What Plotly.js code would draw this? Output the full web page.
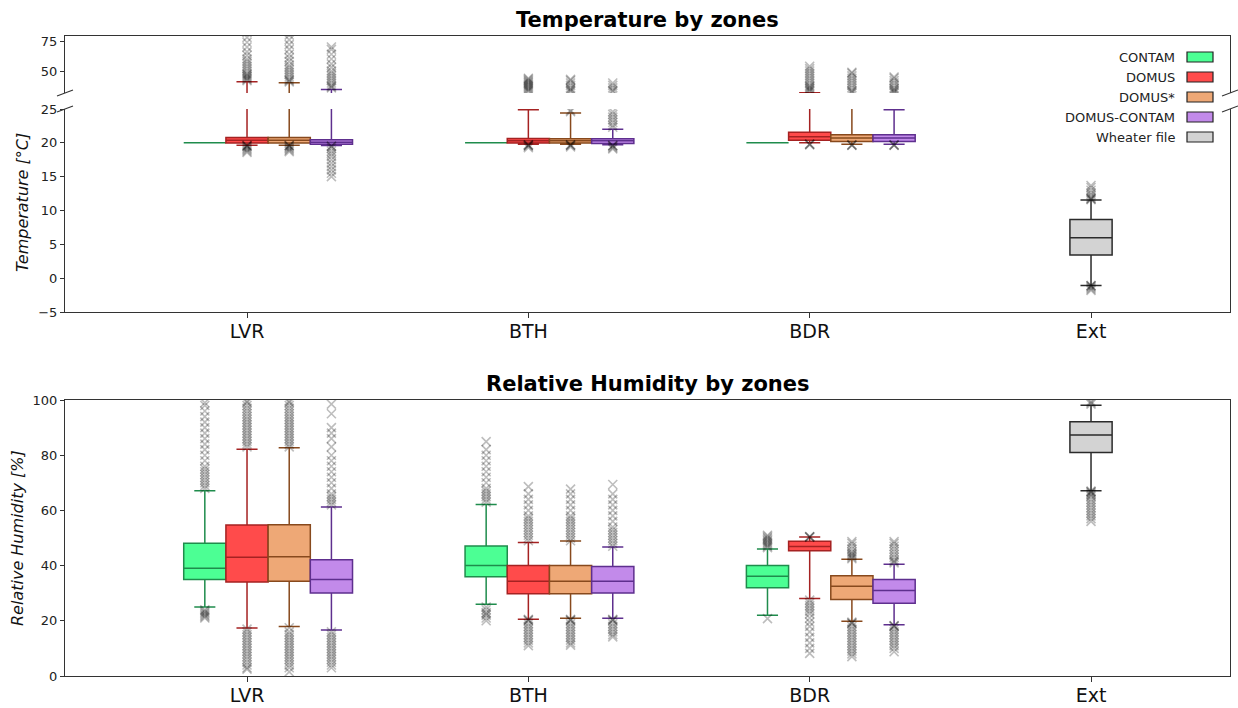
<!DOCTYPE html>
<html>
<head>
<meta charset="utf-8">
<script src="https://cdn.plot.ly/plotly-3.0.1.min.js"></script>
<style>
html,body{margin:0;padding:0;background:#fff;}
#chart{width:1238px;height:708px;}
</style>
</head>
<body>
<div id="chart"></div>
<script>
// ---------------- DATA ----------------
const zones = ['LVR', 'BTH', 'BDR', 'Ext'];
const seriesNames = ['CONTAM', 'DOMUS', 'DOMUS*', 'DOMUS-CONTAM'];
const extName = 'Wheater file';

// Temperature box statistics, rows = series, columns = LVR, BTH, BDR
const tempQ1  = [[20, 20, 20], [19.96, 19.96, 20.4], [19.96, 19.96, 20.2], [19.8, 19.9, 20.2]];
const tempMed = [[20, 20, 20], [20.4, 20.3, 20.9], [20.4, 20.3, 20.7], [20.1, 20.3, 20.7]];
const tempQ3  = [[20, 20, 20], [20.78, 20.63, 21.57], [20.8, 20.6, 21.18], [20.44, 20.6, 21.18]];
const tempLo  = [[20, 20, 20], [19.66, 19.8, 20.0], [19.66, 19.8, 19.8], [19.6, 19.7, 19.8]];
const tempHi  = [[20, 20, 20], [41.1, 24.9, 32], [40.3, 24.4, 30], [34.7, 22.0, 24.9]];
// Weather file (Ext): lower fence, q1, median, q3, upper fence
const tempExt = [-1.07, 3.43, 5.99, 8.68, 11.57];

// Temperature outliers, rows = series, columns = LVR, BTH, BDR
const tempOut = [
  [[], [], []],
  [[42, 43, 44, 45, 46, 47, 48, 50, 52, 54, 56, 58, 60, 63, 66, 70, 74, 78, 82, 19.6, 19.6, 19.5, 19.4, 19.2, 19.0, 18.8, 18.6],
   [33, 34, 35, 36, 37, 38, 39, 40, 41, 42, 43, 44, 19.7, 19.7, 19.6, 19.5, 19.3],
   [33, 34, 35, 36, 37, 38, 40, 42, 44, 46, 48, 50, 52, 54, 19.8, 19.8, 19.7]],
  [[41, 42, 43, 45, 47, 49, 51, 53, 55, 58, 61, 64, 68, 72, 76, 80, 19.6, 19.6, 19.5, 19.3, 19.1, 18.9, 18.7],
   [24.6, 24.8, 33, 34, 35, 36, 38, 40, 42, 43, 19.7, 19.7, 19.6, 19.4],
   [32, 33, 34, 36, 38, 40, 42, 44, 46, 48, 49, 19.7, 19.7, 19.6]],
  [[36, 37, 38, 40, 42, 44, 46, 48, 50, 53, 56, 60, 64, 68, 70, 19.5, 19.5, 19.2, 18.8, 18.4, 18, 17.5, 17, 16.5, 16, 15.5, 15],
   [22.3, 22.6, 23, 23.4, 23.8, 24.2, 24.6, 33, 34, 36, 38, 40, 19.6, 19.6, 19.5, 19.3, 19.1],
   [32, 33, 34, 35, 36, 38, 40, 42, 44, 45, 19.7, 19.7, 19.6]]
];
const tempExtOut = [11.6, 11.7, 11.8, 12, 12.3, 12.6, 13, 13.4, 13.7, -1.1, -1.1, -1.2, -1.4, -1.6, -1.8];

// Relative humidity box statistics, rows = series, columns = LVR, BTH, BDR
const rhQ1  = [[35.0, 36.0, 32.0], [34.1, 29.8, 45.4], [34.3, 29.8, 27.7], [30.1, 30.1, 26.4]];
const rhMed = [[39.0, 40.0, 36.1], [43.0, 34.3, 46.9], [43.2, 34.3, 32.5], [35.0, 34.3, 31.0]];
const rhQ3  = [[48.1, 47.1, 40.0], [54.7, 40.0, 48.8], [54.8, 40.0, 36.3], [42.1, 39.7, 35.0]];
const rhLo  = [[25.0, 26.0, 22.0], [17.4, 20.6, 28.1], [17.9, 20.9, 19.8], [16.7, 20.9, 18.6]];
const rhHi  = [[67.1, 62.1, 46.0], [82.2, 48.4, 50.4], [82.7, 48.9, 42.3], [61.2, 46.7, 40.5]];
const rhExt = [67.1, 81.0, 87.3, 92.1, 98.1];

// Relative humidity outliers
const rhOut = [
  [[68, 69, 70, 71, 72, 73, 74, 75, 76, 78, 80, 82, 84, 86, 88, 90, 92, 94, 96, 98, 99, 24, 23.5, 23, 22.5, 22, 21.5, 21],
   [63, 64, 65, 66, 67, 68, 70, 72, 74, 76, 78, 80, 82, 84.9, 25, 24, 23, 22.5, 22, 21, 20],
   [46.5, 47, 47.5, 48, 48.5, 49, 49.5, 50, 50.5, 51, 20.8]],
  [[83, 84, 85, 86, 87, 88, 89, 90, 91, 92, 93, 94, 95, 96, 97, 98, 99, 99.5, 17, 16, 15, 14, 13, 12, 11, 10, 9, 8, 7, 6, 5, 4, 3, 2.5],
   [49, 50, 51, 52, 53, 54, 55, 56, 57, 58, 60, 62, 64, 66, 68.6, 20.5, 20.3, 20, 19, 18, 17, 16, 15, 14, 13, 12, 11],
   [50.3, 50.4, 50.5, 27.5, 26.5, 25.5, 24.5, 23.5, 22.5, 21, 19.5, 18, 16, 14, 12, 10, 8.2]],
  [[83, 84, 85, 86, 87, 88, 89, 90, 91, 92, 93, 94, 95, 96, 97, 98, 99, 99.5, 17.5, 16, 15, 14, 13, 12, 11, 10, 9, 8, 7, 6, 5, 4, 3, 1.5],
   [49, 50, 51, 52, 53, 54, 55, 56, 57, 58, 60, 62, 64, 66, 67.7, 20.5, 20.3, 20, 19, 18, 17, 16, 15, 14, 13, 12, 11.2],
   [42.5, 43, 43.5, 44, 44.5, 45, 46, 47, 48, 48.7, 19.5, 19.2, 19, 18, 17, 16, 15, 14, 13, 12, 11, 10, 9, 8, 7]],
  [[62, 63, 64, 65, 66, 68, 70, 72, 74, 76, 78, 80, 83, 86, 88, 90, 95, 98.5, 16, 15, 14, 13, 12, 11, 10, 9, 8, 7, 6, 5, 4, 3],
   [47, 48, 49, 50, 51, 52, 53, 54, 56, 58, 60, 62, 64, 66, 69.4, 20.5, 20.3, 20, 19, 18, 17, 16, 15, 14.2],
   [41, 41.5, 42, 43, 44, 45, 46, 47, 48, 48.7, 18.3, 18.1, 18, 17, 16, 15, 14, 13, 12, 11, 10, 8.8]]
];
const rhExtOut = [98.5, 99, 99.5, 67, 66.8, 66.5, 66, 65.5, 65, 64, 63, 62, 61, 60, 59, 58, 57, 56];

// ---------------- STYLE ----------------
const fillColors = ['#4cff94', '#ff4b4b', '#eea876', '#c28aea'];
const lineColors = ['#1f8c4c', '#a52222', '#87491d', '#5e2f8e'];
const extFill = '#d3d3d3', extLine = '#2b2b2b';
const offsets = [-0.15, 0, 0.15, 0.3];
const boxW = 0.15;
const FONT = 'DejaVu Sans, Liberation Sans, sans-serif';

// ---------------- TRACES ----------------
const traces = [];
function boxTrace(pos, q1, med, q3, lo, hi, fill, line, xa, ya, name) {
  return {
    type: 'box', name: name, x: pos, q1: q1, median: med, q3: q3,
    lowerfence: lo, upperfence: hi, width: boxW, whiskerwidth: 0.5,
    fillcolor: fill, line: {color: line, width: 1.5}, boxpoints: false,
    hoverinfo: 'skip', showlegend: false, xaxis: xa, yaxis: ya
  };
}
function outTrace(xs, ys, xa, ya) {
  return {
    type: 'scatter', mode: 'markers', x: xs, y: ys, xaxis: xa, yaxis: ya,
    marker: {symbol: 'x-thin', size: 9, color: 'rgba(0,0,0,0.26)',
             line: {color: 'rgba(0,0,0,0.26)', width: 1.6}},
    hoverinfo: 'skip', showlegend: false
  };
}
const zoneIdx = [0, 1, 2];
const panels = [
  {xa: 'x', ya: 'y', q1: tempQ1, med: tempMed, q3: tempQ3, lo: tempLo, hi: tempHi, ext: tempExt, out: tempOut, extOut: tempExtOut},
  {xa: 'x2', ya: 'y2', q1: tempQ1, med: tempMed, q3: tempQ3, lo: tempLo, hi: tempHi, ext: tempExt, out: tempOut, extOut: tempExtOut},
  {xa: 'x3', ya: 'y3', q1: rhQ1, med: rhMed, q3: rhQ3, lo: rhLo, hi: rhHi, ext: rhExt, out: rhOut, extOut: rhExtOut}
];
panels.forEach(p => {
  seriesNames.forEach((nm, s) => {
    const pos = zoneIdx.map(z => z + offsets[s]);
    traces.push(boxTrace(pos, p.q1[s], p.med[s], p.q3[s], p.lo[s], p.hi[s], fillColors[s], lineColors[s], p.xa, p.ya, nm));
  });
  traces.push(boxTrace([3], [p.ext[1]], [p.ext[2]], [p.ext[3]], [p.ext[0]], [p.ext[4]], extFill, extLine, p.xa, p.ya, extName));
  seriesNames.forEach((nm, s) => {
    const xs = [], ys = [];
    zoneIdx.forEach(z => p.out[s][z].forEach(v => { xs.push(z + offsets[s]); ys.push(v); }));
    traces.push(outTrace(xs, ys, p.xa, p.ya));
  });
  traces.push(outTrace(p.extOut.map(() => 3), p.extOut, p.xa, p.ya));
});

// ---------------- LAYOUT ----------------
const W = 1238, H = 708;
const mL = 65, mR = 8, mT = 36, mB = 32;
const pw = W - mL - mR, ph = H - mT - mB;
const px = v => (v - mL) / pw;          // pixel x -> paper
const py = v => (H - mB - v) / ph;      // pixel y -> paper

const xRange = [-0.647, 3.494];
const axLine = {showline: true, linecolor: '#333', linewidth: 1.1, showgrid: false, zeroline: false};
const tickFont = {family: FONT, size: 13, color: '#222'};
const catFont = {family: FONT, size: 19, color: '#111'};

const layout = {
  width: W, height: H,
  margin: {l: mL, r: mR, t: mT, b: mB},
  paper_bgcolor: '#fff', plot_bgcolor: '#fff',
  showlegend: false, boxmode: 'overlay',
  font: {family: FONT},
  xaxis: Object.assign({}, axLine, {domain: [0, 1], anchor: 'y', range: xRange, tickvals: [0, 1, 2, 3], ticktext: zones,
    ticks: 'outside', ticklen: 5, tickcolor: '#333', tickfont: catFont, mirror: false, ticklabelstandoff: -3}),
  yaxis: Object.assign({}, axLine, {domain: [py(312), py(109)], anchor: 'x', range: [-5, 25], tickvals: [-5, 0, 5, 10, 15, 20, 25],
    ticktext: ['\u22125', '0', '5', '10', '15', '20', '25'],
    ticks: 'outside', ticklen: 4, tickcolor: '#333', tickfont: tickFont, mirror: true}),
  xaxis2: Object.assign({}, axLine, {domain: [0, 1], anchor: 'y2', matches: 'x', range: xRange, side: 'top', showticklabels: false, ticks: '', mirror: false}),
  yaxis2: Object.assign({}, axLine, {domain: [py(93), 1], anchor: 'x2', range: [31.7, 79.2], tickvals: [50, 75],
    ticks: 'outside', ticklen: 4, tickcolor: '#333', tickfont: tickFont, mirror: true}),
  xaxis3: Object.assign({}, axLine, {domain: [0, 1], anchor: 'y3', range: xRange, tickvals: [0, 1, 2, 3], ticktext: zones,
    ticks: 'outside', ticklen: 5, tickcolor: '#333', tickfont: catFont, mirror: true, ticklabelstandoff: -3}),
  yaxis3: Object.assign({}, axLine, {domain: [0, py(400)], anchor: 'x3', range: [0, 100], tickvals: [0, 20, 40, 60, 80, 100],
    ticks: 'outside', ticklen: 4, tickcolor: '#333', tickfont: tickFont, mirror: true}),
  annotations: [
    {text: '<b>Temperature by zones</b>', xref: 'paper', yref: 'paper', x: 0.5, y: py(20), xanchor: 'center', yanchor: 'middle',
     showarrow: false, font: {family: FONT, size: 21, color: '#000'}},
    {text: '<b>Relative Humidity by zones</b>', xref: 'paper', yref: 'paper', x: 0.5, y: py(384), xanchor: 'center', yanchor: 'middle',
     showarrow: false, font: {family: FONT, size: 21, color: '#000'}},
    {text: '<i>Temperature [°C]</i>', xref: 'paper', yref: 'paper', x: px(22), y: py(203), xanchor: 'center', yanchor: 'middle',
     textangle: -90, showarrow: false, font: {family: FONT, size: 16, color: '#111'}},
    {text: '<i>Relative Humidity [%]</i>', xref: 'paper', yref: 'paper', x: px(17), y: py(538), xanchor: 'center', yanchor: 'middle',
     textangle: -90, showarrow: false, font: {family: FONT, size: 16, color: '#111'}}
  ],
  shapes: []
};

// Legend (text to the left of the patch, as in the reference)
const legNames = seriesNames.concat([extName]);
const legFills = fillColors.concat([extFill]);
const legLines = lineColors.map(() => '#222').concat(['#222']);
legNames.forEach((nm, i) => {
  const yc = 57 + i * 20;
  layout.annotations.push({text: nm, xref: 'paper', yref: 'paper', x: px(1177), y: py(yc), xanchor: 'right', yanchor: 'middle',
    showarrow: false, font: {family: FONT, size: 13, color: '#222'}});
  layout.shapes.push({type: 'rect', xref: 'paper', yref: 'paper', x0: px(1187), x1: px(1213), y0: py(yc + 5), y1: py(yc - 5),
    fillcolor: legFills[i], line: {color: legLines[i], width: 1.2}});
});

// Broken-axis marks
[93, 109].forEach(yc => {
  layout.shapes.push({type: 'line', xref: 'paper', yref: 'paper', x0: px(57), x1: px(73), y0: py(yc + 3), y1: py(yc - 3),
    line: {color: '#333', width: 1.1}});
  layout.shapes.push({type: 'line', xref: 'paper', yref: 'paper', x0: px(1222), x1: px(1238), y0: py(yc + 3), y1: py(yc - 3),
    line: {color: '#333', width: 1.1}});
});

Plotly.newPlot('chart', traces, layout, {displayModeBar: false, staticPlot: true});
</script>
</body>
</html>
